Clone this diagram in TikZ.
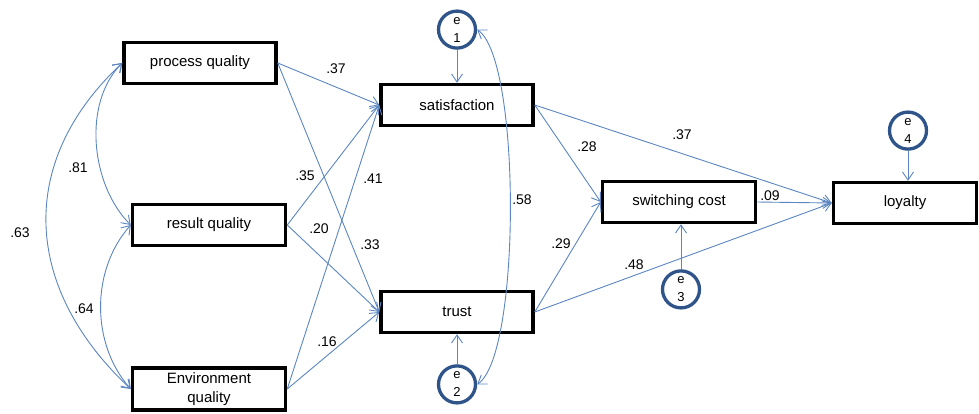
\documentclass[tikz,border=0pt]{standalone}
\usepackage{fontspec}
\setmainfont{Liberation Sans}
\usetikzlibrary{arrows.meta,positioning}
\definecolor{pathblue}{RGB}{91,134,193}
\definecolor{errblue} {RGB}{47, 84,137}

\begin{document}
\begin{tikzpicture}[
    x=1pt, y=-1pt,
    var/.style={draw, rectangle, line width=3.5pt, minimum width=152pt, minimum height=41pt, inner sep=2pt, align=center, font=\fontsize{15}{19}\selectfont},
    err/.style={circle, draw=errblue, line width=3.3pt, minimum size=37pt, inner sep=0pt, align=center, font=\fontsize{13}{18}\selectfont},
    arrow/.style={-{Straight Barb[length=8pt,width=11pt]}, draw=pathblue, line width=0.9pt},
    cov/.style={{Straight Barb[length=8pt,width=11pt]}-{Straight Barb[length=8pt,width=11pt]}, draw=pathblue, line width=0.9pt},
    coef/.style={inner sep=1pt, font=\fontsize{14}{16}\selectfont}
]
    \useasboundingbox (0,0) rectangle (979,414);

    % Exogenous
    \node[var] (pq) at (200,63) {process quality};
    \node[var, minimum width=153pt] (rq) at (209,225) {result quality};
    \node[var, minimum width=153pt, minimum height=42pt] (eq) at (209,389) {Environment\\quality};

    % Mediators and outcome
    \node[var] (sat) at (457,105) {satisfaction};
    \node[var] (tr) at (457,312) {trust};
    \node[var, minimum width=153pt] (sc) at (679,202) {switching cost};
    \node[var, minimum width=143pt] (loy) at (905,203) {loyalty};

    % Errors
    \node[err] (e1) [above=33pt of sat] {e\\1};
    \node[err] (e2) [below=30pt of tr] {e\\2};
    \node[err, xshift=2pt] (e3) [below=45pt of sc] {e\\3};
    \node[err, xshift=3pt] (e4) [above=30pt of loy] {e\\4};

    % Paths
    \draw[arrow] (pq.east) -- (sat.west);
    \draw[arrow] (pq.east) -- (tr.west);
    \draw[arrow] (rq.east) -- (sat.west);
    \draw[arrow] (rq.east) -- (tr.west);
    \draw[arrow] (eq.east) -- (sat.west);
    \draw[arrow] (eq.east) -- (tr.west);
    \draw[arrow] (sat.east) -- (sc.west);
    \draw[arrow] (tr.east) -- (sc.west);
    \draw[arrow] (sat.east) -- (loy.west);
    \draw[arrow] (tr.east) -- (loy.west);
    \draw[arrow] (sc.east) -- (loy.west);
    \draw[arrow] (e1) -- (sat);
    \draw[arrow] (e2) -- (tr);
    \draw[arrow] (e3.north) -- (e3.north |- sc.south);
    \draw[arrow] (e4.south) -- (e4.south |- loy.north);

    % Correlations
    \draw[cov] (pq.west) .. controls +(-40,40) and +(-40,-40) .. (rq.west);
    \draw[cov] (rq.west) .. controls +(-40,45) and +(-40,-45) .. (eq.west);
    \draw[cov] (pq.west) .. controls +(-107,100) and +(-107,-100) .. (eq.west);
    \draw[cov] (e1.east) .. controls +(44,30) and +(44,-30) .. (e2.east);

    % Estimates
    \node[coef] (c81) at (78,168) {.81};
    \node[coef] (c64) at (84,309) {.64};
    \node[coef] (c63) at (20,233) {.63};
    \node[coef] (c58) at (522,200) {.58};
    \node[coef] (c37a) at (336,69) {.37};
    \node[coef] (c35) at (305,176) {.35};
    \node[coef] (c41) at (373,179) {.41};
    \node[coef] (c20) at (319,229) {.20};
    \node[coef] (c33) at (370,245) {.33};
    \node[coef] (c16) at (327,342) {.16};
    \node[coef] (c28) at (587,147) {.28};
    \node[coef] (c29) at (561,244) {.29};
    \node[coef] (c37b) at (682,135) {.37};
    \node[coef] (c48) at (634,265) {.48};
    \node[coef] (c09) at (770,196) {.09};
\end{tikzpicture}
\end{document}
